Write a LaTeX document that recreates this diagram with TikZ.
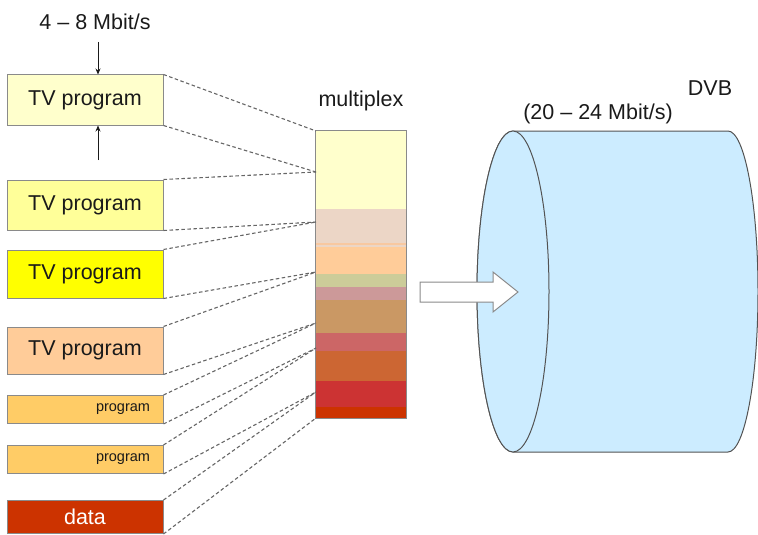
\documentclass[tikz,border=0pt]{standalone}
\usepackage{fontspec}
\setmainfont{Liberation Sans}
\usetikzlibrary{arrows.meta}
\definecolor{boxgray}{HTML}{8A8A8A}
\definecolor{dashgray}{HTML}{666666}
\definecolor{txt}{HTML}{1A1A1A}
\definecolor{cpale}{HTML}{FFFFCC}
\definecolor{clight}{HTML}{FFFF99}
\definecolor{cyell}{HTML}{FFFF00}
\definecolor{cpeach}{HTML}{FFCC99}
\definecolor{corange}{HTML}{FFCC66}
\definecolor{cdata}{HTML}{CC3300}
\definecolor{cyl}{HTML}{CCECFF}
\begin{document}
\begin{tikzpicture}[x=1pt,y=-1pt,
  font=\fontsize{21.5}{25}\selectfont,
  box/.style={draw=boxgray, line width=1pt, minimum width=156pt, inner sep=0pt, text=txt},
  conn/.style={draw=dashgray, line width=1.1pt, dash pattern=on 3.5pt off 2.5pt},
  lbl/.style={text=txt, inner sep=0pt},
  smallarrow/.style={draw=txt, line width=0.8pt, -{Stealth[length=6pt,width=5pt]}}
]
\useasboundingbox (0,0) rectangle (758,535);

% left boxes
\node[box, fill=cpale, minimum height=50pt] (b1) at (85,100) {TV program};
\node[box, fill=clight, minimum height=50pt] (b2) at (85,205) {TV program};
\node[box, fill=cyell, minimum height=48pt] (b3) at (85,274) {TV program};
\node[box, fill=cpeach, minimum height=47pt] (b4) at (85,350.5) {TV program};
\node[box, fill=corange, minimum height=28pt, text width=130pt, align=right,
      font=\fontsize{14.5}{16}\selectfont] (b5) at (85,409.5) {program};
\node[box, fill=corange, minimum height=28pt, text width=130pt, align=right,
      font=\fontsize{14.5}{16}\selectfont] (b6) at (85,459.5) {program};
\node[box, fill=cdata, minimum height=33pt, text=white] (b7) at (85,517) {data};

% rate label and arrows
\node[lbl] (rate) at (95,22) {4 -- 8 Mbit/s};
\coordinate (a1) at (98,42);
\coordinate (a2) at (98,160);
\draw[smallarrow] (a1) -- (a1 |- b1.north);
\draw[smallarrow] (a2) -- (a2 |- b1.south);

% multiplex
\node[lbl] (muxlabel) at (361,101) {multiplex};
\node[minimum width=90pt, minimum height=287pt, inner sep=0pt] (mux) at (361,274.5) {};
\fill[cpale] (316,131) rectangle (406,209);
\fill[color={rgb,255:red,236;green,214;blue,198}] (316,209) rectangle (406,247);
\fill[color={rgb,255:red,248;green,200;blue,160}] (316,242.5) rectangle (406,244.5);
\fill[cpeach] (316,247) rectangle (406,274);
\fill[color={rgb,255:red,204;green,204;blue,153}] (316,274) rectangle (406,287);
\fill[color={rgb,255:red,204;green,153;blue,153}] (316,287) rectangle (406,300);
\fill[color={rgb,255:red,202;green,152;blue,100}] (316,300) rectangle (406,333);
\fill[color={rgb,255:red,204;green,102;blue,102}] (316,333) rectangle (406,351);
\fill[color={rgb,255:red,204;green,102;blue,51}] (316,351) rectangle (406,381);
\fill[color={rgb,255:red,204;green,51;blue,51}] (316,381) rectangle (406,407);
\fill[cdata] (316,407) rectangle (406,418);
\draw[boxgray, line width=1pt] (mux.north west) rectangle (mux.south east);

% connection points on multiplex
\coordinate (m1) at (316,131);
\coordinate (m2) at (316,172);
\coordinate (m3) at (316,222);
\coordinate (m4) at (316,272);
\coordinate (m5) at (316,323);
\coordinate (m6) at (316,348);
\coordinate (m7) at (316,392);
\coordinate (m8) at (316,418);

\draw[conn] (b1.north east) -- (m1);
\draw[conn] (b1.south east) -- (m2);
\draw[conn] (b2.north east) -- (m2);
\draw[conn] (b2.south east) -- (m3);
\draw[conn] (b3.north east) -- (m3);
\draw[conn] (b3.south east) -- (m4);
\draw[conn] (b4.north east) -- (m4);
\draw[conn] (b4.south east) -- (m5);
\draw[conn] (b5.north east) -- (m5);
\draw[conn] (b5.south east) -- (m6);
\draw[conn] (b6.north east) -- (m6);
\draw[conn] (b6.south east) -- (m7);
\draw[conn] (b7.north east) -- (m7);
\draw[conn] (b7.south east) -- (m8);

% cylinder
\draw[fill=cyl, draw=txt!75, line width=1pt]
  (513,131) -- (728,131)
  arc[start angle=-90, end angle=90, x radius=30, y radius=160.5]
  -- (513,452)
  arc[start angle=90, end angle=270, x radius=36, y radius=160.5] -- cycle;
\draw[fill=cyl, draw=txt!75, line width=1pt] (513,291.5) ellipse[x radius=36, y radius=160.5];

\node[lbl] (dvb) at (710,88) {DVB};
\node[lbl] (rate2) at (598,114) {(20 -- 24 Mbit/s)};

% big arrow
\draw[fill=white, draw=boxgray, line width=1pt]
  (420,282) -- (493,282) -- (493,272) -- (518,292) -- (493,312) -- (493,302) -- (420,302) -- cycle;
\end{tikzpicture}
\end{document}
